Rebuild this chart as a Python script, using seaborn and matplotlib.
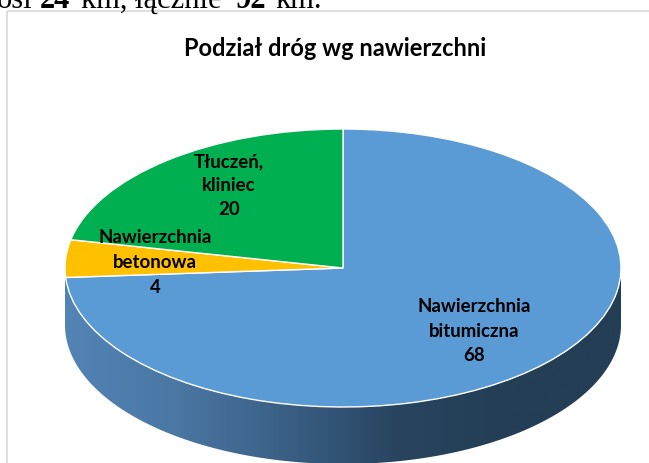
"""Wykres kołowy 3D: podział dróg wg nawierzchni."""

import numpy as np
import matplotlib
matplotlib.use("Agg")
import matplotlib.pyplot as plt
from matplotlib.patches import Polygon
import seaborn as sns

W, H = 649, 464
CX, CY, RX, RY = 343, 269, 278, 139
DEPTH = 57

# dane
categories = ["Nawierzchnia bitumiczna", "Nawierzchnia betonowa", "Tłuczeń, kliniec"]
values = [68, 4, 20]
slice_colors = ["#5b9bd5", "#ffc000", "#00b050"]
side_colors = ["#5384b6", "#4a77a3", "#3a5f85", "#28445f", "#233e55", "#233e55"]
title = "Podział dróg wg nawierzchni"

label_lines = [
    (["Nawierzchnia", "bitumiczna", "68"], 474, [307, 332, 356]),
    (["Nawierzchnia", "betonowa", "4"], 155, [238, 263, 288]),
    (["Tłuczeń,", "kliniec", "20"], 229, [162, 186, 210]),
]

sns.set_theme(style="white")
plt.rcParams["font.family"] = ["Lato", "DejaVu Sans"]

fig = plt.figure(figsize=(W / 100, H / 100), dpi=100)
fig.patch.set_facecolor("white")
ax = fig.add_axes([0, 0, 1, 1])

# bok walca - gradient przyciety do obrysu
d = DEPTH / RY
t = np.linspace(np.pi, 2 * np.pi, 300)
outline = np.r_[np.c_[np.cos(t), np.sin(t) - d], np.c_[np.cos(t[::-1]), np.sin(t[::-1])]]
side_cmap = sns.blend_palette(side_colors, as_cmap=True)
grad = ax.imshow(np.linspace(0, 1, 256)[None, :], cmap=side_cmap, aspect="auto",
                 extent=(-1, 1, -1 - d, 0), zorder=1)
clip = Polygon(outline, closed=True, transform=ax.transData, fc="none", ec="none")
ax.add_patch(clip)
grad.set_clip_path(clip)

# gorna powierzchnia
wedges, _ = ax.pie(values, colors=slice_colors, startangle=90, counterclock=False,
                   wedgeprops=dict(edgecolor="white", linewidth=1.0, zorder=2))
ax.set_aspect("auto")
ax.set_xlim(-CX / RX, (W - CX) / RX)
ax.set_ylim((CY - H) / RY, CY / RY)
ax.axis("off")

# teksty i ramka w pikselach
ov = fig.add_axes([0, 0, 1, 1], facecolor="none", zorder=5)
ov.set_xlim(0, W)
ov.set_ylim(H, 0)
ov.axis("off")

ov.plot([6.5, 6.5], [H, 11.5], color="#d9d9d9", lw=1.2, solid_capstyle="butt")
ov.plot([6.5, W], [11.5, 11.5], color="#d9d9d9", lw=1.2, solid_capstyle="butt")

ov.text(335, 49, title, ha="center", va="center", fontsize=17, fontweight="bold",
        color="black")

for lines, x, ys in label_lines:
    for line, y in zip(lines, ys):
        ov.text(x, y, line, ha="center", va="center", fontsize=13.4, fontweight="bold",
                color="black")

# fragment tekstu dokumentu nad wykresem
serif = ["Liberation Serif", "DejaVu Serif"]
doc_parts = [("osi", -3, "normal"), ("24", 40, "bold"), ("km, łącznie", 81, "normal"),
             ("92", 235, "bold"), ("km.", 275, "normal")]
for text, x, weight in doc_parts:
    ov.text(x, 8, text, ha="left", va="baseline", fontsize=22, fontweight=weight,
            family=serif, color="black")

fig.savefig("out.png", dpi=100)
